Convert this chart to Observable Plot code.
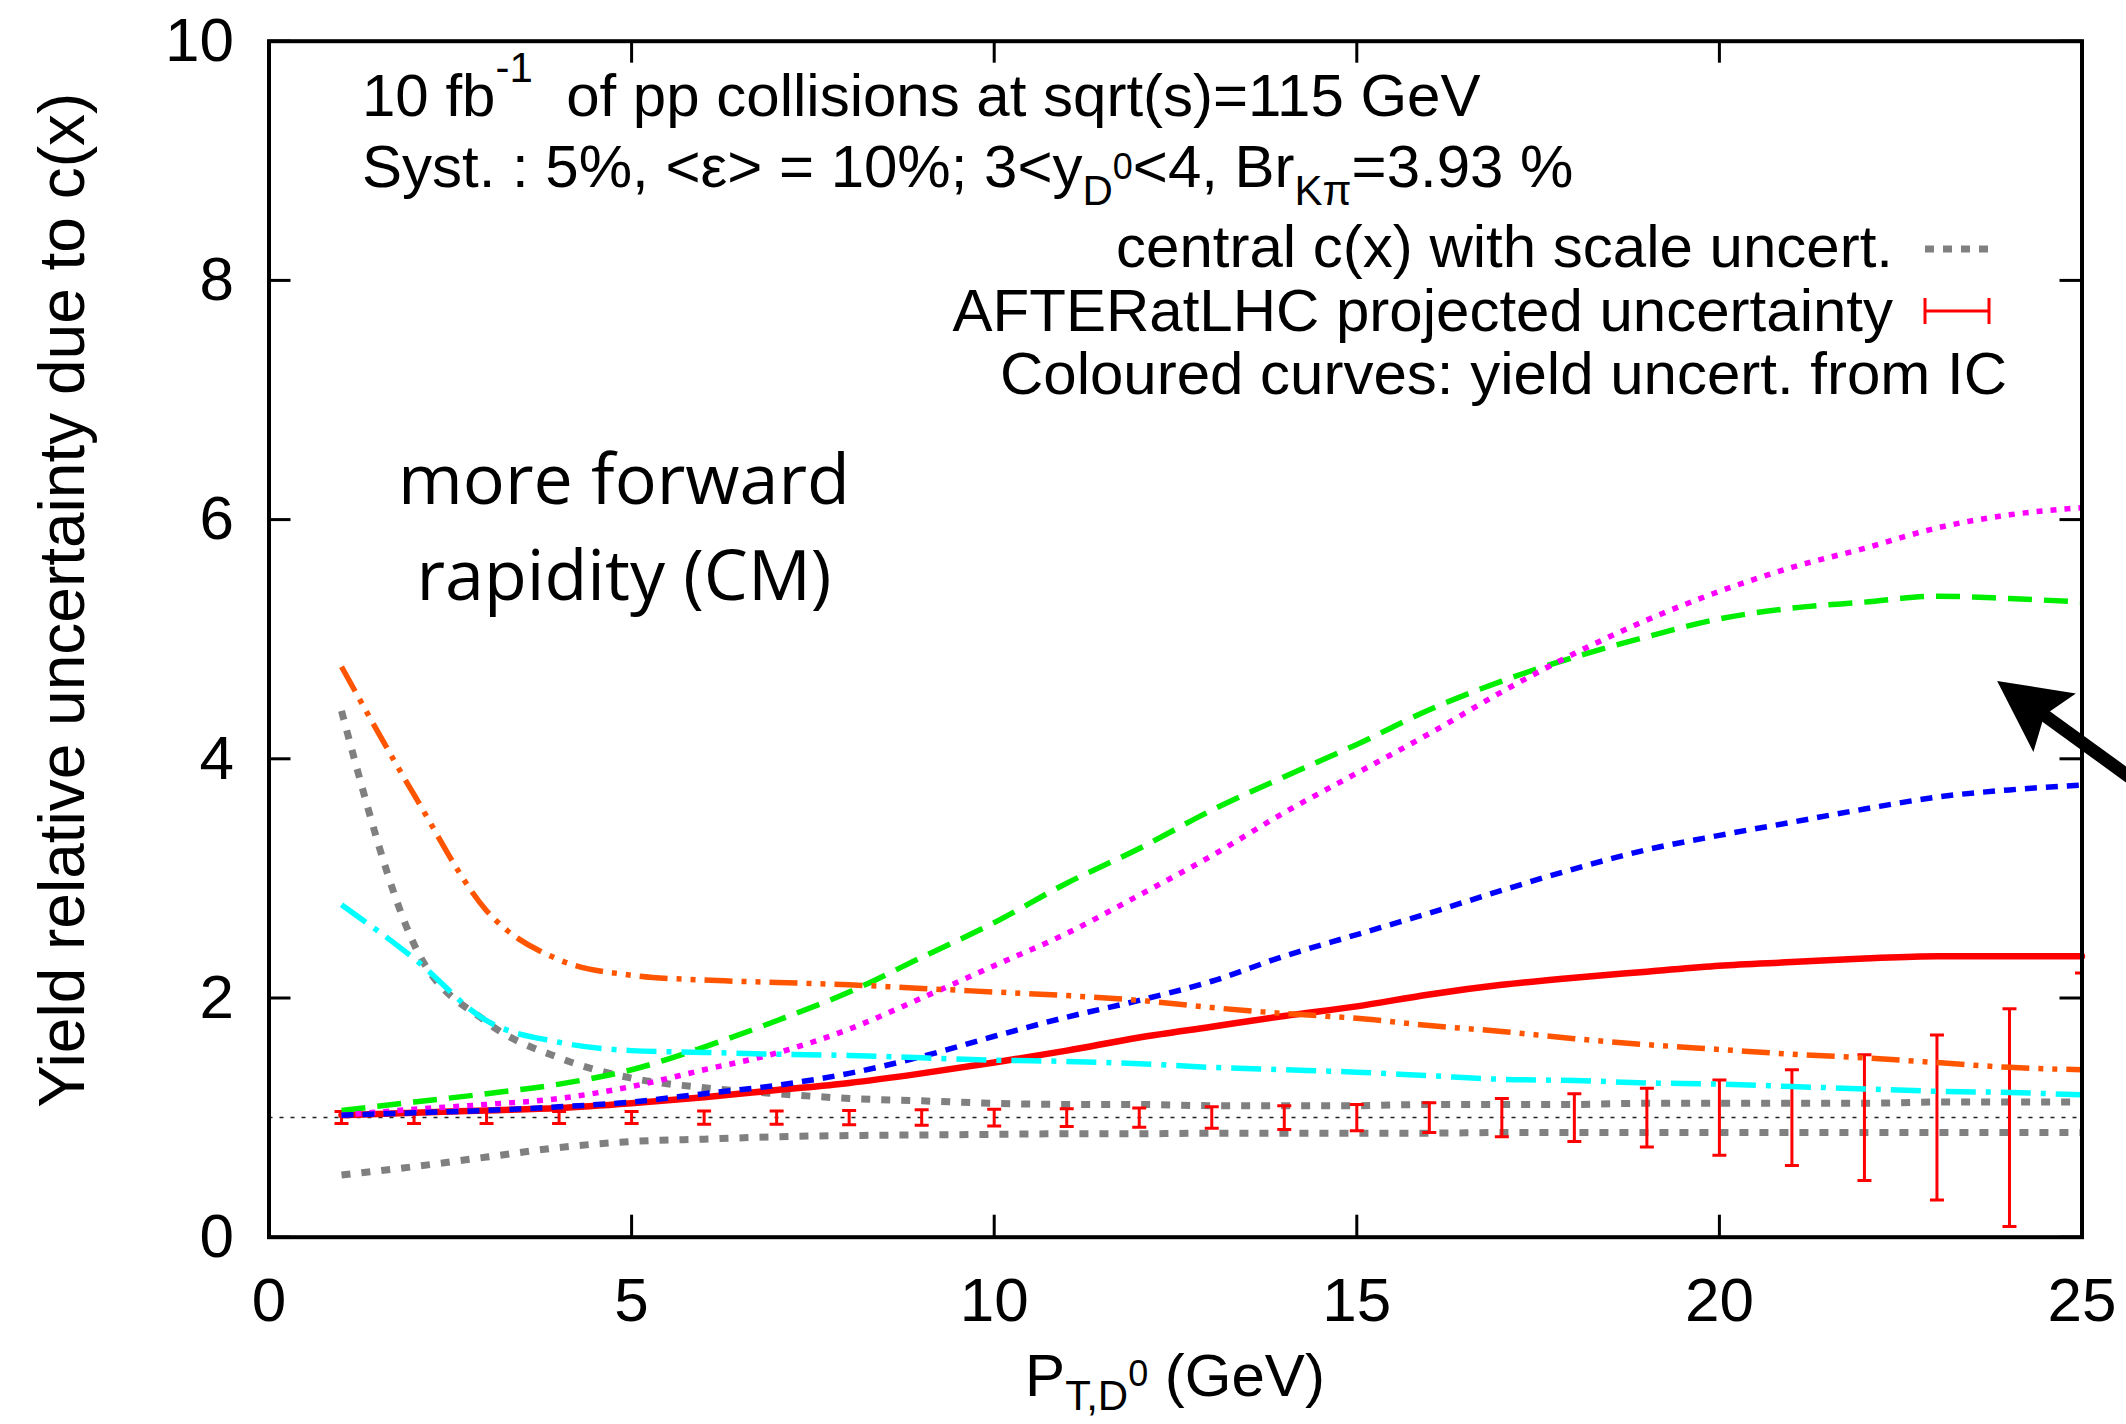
<!DOCTYPE html>
<html>
<head>
<meta charset="utf-8">
<script src="https://cdn.jsdelivr.net/npm/d3@7"></script>
<script src="https://cdn.jsdelivr.net/npm/@observablehq/plot@0.6"></script>
<style>
  html, body { margin: 0; padding: 0; background: #fff; overflow: hidden; }
  #chart svg text { white-space: pre; }
</style>
</head>
<body>
<div id="chart"></div>
<script>
// ---------------- data ----------------
const pt = [1, 2, 3, 4, 5, 6, 7, 8, 9, 10, 11, 12, 13, 14, 15, 16, 17, 18, 19, 20, 21, 22, 23, 24, 25];

const redSolid   = [1.02, 1.04, 1.06, 1.08, 1.12, 1.17, 1.23, 1.29, 1.37, 1.46, 1.56, 1.67, 1.76, 1.85, 1.93, 2.03, 2.11, 2.17, 2.22, 2.27, 2.30, 2.33, 2.35, 2.35, 2.35];
const greenDash  = [1.06, 1.13, 1.20, 1.28, 1.40, 1.59, 1.81, 2.05, 2.34, 2.63, 2.96, 3.25, 3.57, 3.85, 4.12, 4.41, 4.65, 4.85, 5.02, 5.17, 5.26, 5.31, 5.36, 5.34, 5.31];
const magentaDot = [1.02, 1.07, 1.11, 1.16, 1.26, 1.40, 1.54, 1.74, 2.00, 2.27, 2.54, 2.86, 3.19, 3.55, 3.88, 4.21, 4.56, 4.88, 5.16, 5.40, 5.60, 5.76, 5.93, 6.04, 6.10];
const blueDash   = [1.02, 1.04, 1.06, 1.09, 1.13, 1.20, 1.27, 1.37, 1.51, 1.68, 1.84, 1.98, 2.14, 2.35, 2.53, 2.71, 2.90, 3.08, 3.24, 3.36, 3.47, 3.58, 3.68, 3.74, 3.78];
const orangeDDot = [4.77, 3.70, 2.73, 2.32, 2.19, 2.15, 2.13, 2.11, 2.08, 2.05, 2.02, 1.98, 1.92, 1.87, 1.83, 1.77, 1.72, 1.66, 1.61, 1.57, 1.53, 1.50, 1.46, 1.42, 1.40];
const cyanDDot   = [2.78, 2.33, 1.81, 1.63, 1.56, 1.545, 1.53, 1.52, 1.50, 1.48, 1.47, 1.45, 1.42, 1.40, 1.38, 1.35, 1.32, 1.31, 1.29, 1.28, 1.26, 1.24, 1.22, 1.21, 1.19];
const scaleUp    = [4.40, 2.45, 1.80, 1.50, 1.33, 1.25, 1.20, 1.16, 1.14, 1.12, 1.11, 1.11, 1.10, 1.10, 1.10, 1.11, 1.11, 1.11, 1.12, 1.12, 1.12, 1.12, 1.13, 1.13, 1.13];
const scaleDown  = [0.52, 0.59, 0.67, 0.75, 0.80, 0.82, 0.84, 0.85, 0.855, 0.86, 0.865, 0.865, 0.87, 0.87, 0.87, 0.87, 0.875, 0.875, 0.875, 0.875, 0.875, 0.875, 0.875, 0.875, 0.875];
const errCenter  = [1, 1, 1, 1, 1, 1, 1, 1, 1, 1, 1, 1, 1, 1, 1, 1, 1, 1, 1, 1, 1, 1, 1, 1, 1];
const errHalf    = [0.05, 0.05, 0.05, 0.05, 0.05, 0.055, 0.055, 0.06, 0.065, 0.07, 0.075, 0.08, 0.09, 0.10, 0.11, 0.125, 0.16, 0.20, 0.245, 0.315, 0.40, 0.525, 0.69, 0.91, 1.21];

const xTicks = [0, 5, 10, 15, 20, 25];
const yTicks = [0, 2, 4, 6, 8, 10];
const arrowTip  = {x: 23.83, y: 4.65};
const arrowTail = {x: 26.63, y: 3.42};

const yLabelText = "Yield relative uncertainty due to c(x)";

// ---------------- layout ----------------
const W = 2126, H = 1424;
const ML = 268.5, MR = 44.5, MT = 40.7, MB = 187.3;
const pxPerX = (W - ML - MR) / 25;
const pxPerY = (H - MT - MB) / 10;
const TICK = 22;
const FONT = "'Liberation Sans', Arial, Helvetica, sans-serif";

const series = ys => pt.map((x, i) => ({x, y: ys[i]}));
const errData = pt.map((x, i) => ({x, lo: errCenter[i] - errHalf[i], hi: errCenter[i] + errHalf[i]}));

const capSymbol = {
  draw(ctx, size) {
    const r = Math.sqrt(size / Math.PI);
    ctx.moveTo(-r, 0); ctx.lineTo(r, 0);
  }
};
const headSymbol = {
  draw(ctx, size) {
    const r = Math.sqrt(size / Math.PI);
    ctx.moveTo(0, 0);
    ctx.lineTo(r, -0.51 * r);
    ctx.lineTo(0.82 * r, 0);
    ctx.lineTo(r, 0.51 * r);
    ctx.closePath();
  }
};
const arrowAngle = Math.atan2((arrowTip.y - arrowTail.y) * pxPerY, (arrowTail.x - arrowTip.x) * pxPerX) * 180 / Math.PI;

const curve = "monotone-x";

const svg = Plot.plot({
  width: W, height: H,
  marginLeft: ML, marginRight: MR, marginTop: MT, marginBottom: MB,
  x: {domain: [0, 25]},
  y: {domain: [0, 10]},
  style: {fontFamily: FONT, background: "white", overflow: "hidden", color: "black"},
  marks: [
    Plot.ruleY([1], {stroke: "#222", strokeWidth: 1.5, strokeDasharray: "4,7"}),
    Plot.line(series(scaleUp),   {x: "x", y: "y", stroke: "#808080", strokeWidth: 7, strokeDasharray: "9,11", strokeLinecap: "butt", curve}),
    Plot.line(series(scaleDown), {x: "x", y: "y", stroke: "#808080", strokeWidth: 7, strokeDasharray: "9,11", strokeLinecap: "butt", curve}),
    Plot.ruleX(errData, {x: "x", y1: "lo", y2: "hi", stroke: "#ff0000", strokeWidth: 3, clip: true}),
    Plot.dot(errData, {x: "x", y: "hi", symbol: capSymbol, r: 7, stroke: "#ff0000", fill: "none", strokeWidth: 3, clip: true}),
    Plot.dot(errData, {x: "x", y: "lo", symbol: capSymbol, r: 7, stroke: "#ff0000", fill: "none", strokeWidth: 3, clip: true}),
    Plot.line(series(redSolid),   {x: "x", y: "y", stroke: "#ff0000", strokeWidth: 6.5, curve}),
    Plot.line(series(greenDash),  {x: "x", y: "y", stroke: "#00ee00", strokeWidth: 5.5, strokeDasharray: "24,12", strokeLinecap: "butt", curve}),
    Plot.line(series(magentaDot), {x: "x", y: "y", stroke: "#ff00ff", strokeWidth: 5.5, strokeDasharray: "6,8", strokeLinecap: "butt", curve}),
    Plot.line(series(blueDash),   {x: "x", y: "y", stroke: "#0000ff", strokeWidth: 5.5, strokeDasharray: "12,9", strokeLinecap: "butt", curve}),
    Plot.line(series(orangeDDot), {x: "x", y: "y", stroke: "#ff5500", strokeWidth: 5.5, strokeDasharray: "28,9,5,9,5,9", strokeLinecap: "butt", curve}),
    Plot.line(series(cyanDDot),   {x: "x", y: "y", stroke: "#00ffff", strokeWidth: 5.5, strokeDasharray: "30,10,5,10", strokeLinecap: "butt", curve}),
    // annotation arrow
    Plot.arrow([{x1: arrowTail.x, y1: arrowTail.y, x2: arrowTip.x, y2: arrowTip.y}],
      {x1: "x1", y1: "y1", x2: "x2", y2: "y2", stroke: "black", strokeWidth: 13, headLength: 0, insetEnd: 45, strokeLinecap: "butt"}),
    Plot.dot([arrowTip], {x: "x", y: "y", symbol: headSymbol, r: 71, fill: "black", stroke: "none", rotate: arrowAngle}),
    // inward ticks, mirrored
    Plot.ruleX(xTicks, {x: d => d, y1: 0, y2: TICK / pxPerY, stroke: "black", strokeWidth: 3}),
    Plot.ruleX(xTicks, {x: d => d, y1: 10 - TICK / pxPerY, y2: 10, stroke: "black", strokeWidth: 3}),
    Plot.ruleY(yTicks, {y: d => d, x1: 0, x2: TICK / pxPerX, stroke: "black", strokeWidth: 3}),
    Plot.ruleY(yTicks, {y: d => d, x1: 25 - TICK / pxPerX, x2: 25, stroke: "black", strokeWidth: 3}),
    Plot.frame({stroke: "black", strokeWidth: 4}),
    Plot.axisX({ticks: xTicks, tickSize: 0, tickPadding: 40, fontSize: 62, label: null}),
    Plot.axisY({ticks: yTicks, tickSize: 0, tickPadding: 35, fontSize: 62, label: null}),
    Plot.text([yLabelText], {frameAnchor: "left", text: d => d, rotate: -90, dx: -(ML - 83), dy: -39, fontSize: 64, textAnchor: "middle", lineAnchor: "bottom"})
  ]
});

// ---------------- rich-text annotations ----------------
const S = d3.select(svg);
const ann = S.append("g").attr("font-family", FONT).attr("fill", "black");

function rich(x, y, anchor, size, parts, family) {
  const t = ann.append("text")
    .attr("x", x).attr("y", y)
    .attr("text-anchor", anchor)
    .attr("font-size", size)
    .style("white-space", "pre");
  if (family) t.attr("font-family", family);
  let cur = 0;
  for (const p of parts) {
    const off = p.off || 0;
    t.append("tspan").attr("dy", off - cur).attr("font-size", p.s ? size * p.s : size).text(p.t);
    cur = off;
  }
  return t;
}

rich(362, 116, "start", 60, [
  {t: "10 fb"}, {t: "-1", s: 0.7, off: -34}, {t: "  of pp collisions at sqrt(s)=115 GeV"}
]);
rich(362, 187, "start", 60, [
  {t: "Syst. : 5%, <ε> = 10%; 3<y"}, {t: "D", s: 0.7, off: 18}, {t: "0", s: 0.6, off: -8},
  {t: "<4, Br"}, {t: "Kπ", s: 0.7, off: 18}, {t: "=3.93 %"}
]);
rich(1893, 267, "end", 60, [{t: "central c(x) with scale uncert."}]);
rich(1893, 331, "end", 60, [{t: "AFTERatLHC projected uncertainty"}]);
rich(2007, 394, "end", 60, [{t: "Coloured curves: yield uncert. from IC"}]);

rich(624, 504, "middle", 70, [{t: "more forward"}], "'Open Sans', sans-serif");
rich(624, 600, "middle", 70, [{t: "rapidity (CM)"}], "'Open Sans', sans-serif");

// x-axis label with sub/superscripts
rich(1175, 1396, "middle", 60, [
  {t: "P"}, {t: "T,D", s: 0.7, off: 14}, {t: "0", s: 0.6, off: -10}, {t: " (GeV)"}
]);

// legend samples
ann.append("line").attr("x1", 1925).attr("x2", 1988).attr("y1", 249).attr("y2", 249)
  .attr("stroke", "#808080").attr("stroke-width", 7).attr("stroke-dasharray", "9,9");
const eg = ann.append("g").attr("stroke", "#ff0000").attr("stroke-width", 3);
eg.append("line").attr("x1", 1925).attr("x2", 1989).attr("y1", 311).attr("y2", 311);
eg.append("line").attr("x1", 1925).attr("x2", 1925).attr("y1", 298).attr("y2", 324);
eg.append("line").attr("x1", 1989).attr("x2", 1989).attr("y1", 298).attr("y2", 324);

document.getElementById("chart").appendChild(svg);
</script>
</body>
</html>
